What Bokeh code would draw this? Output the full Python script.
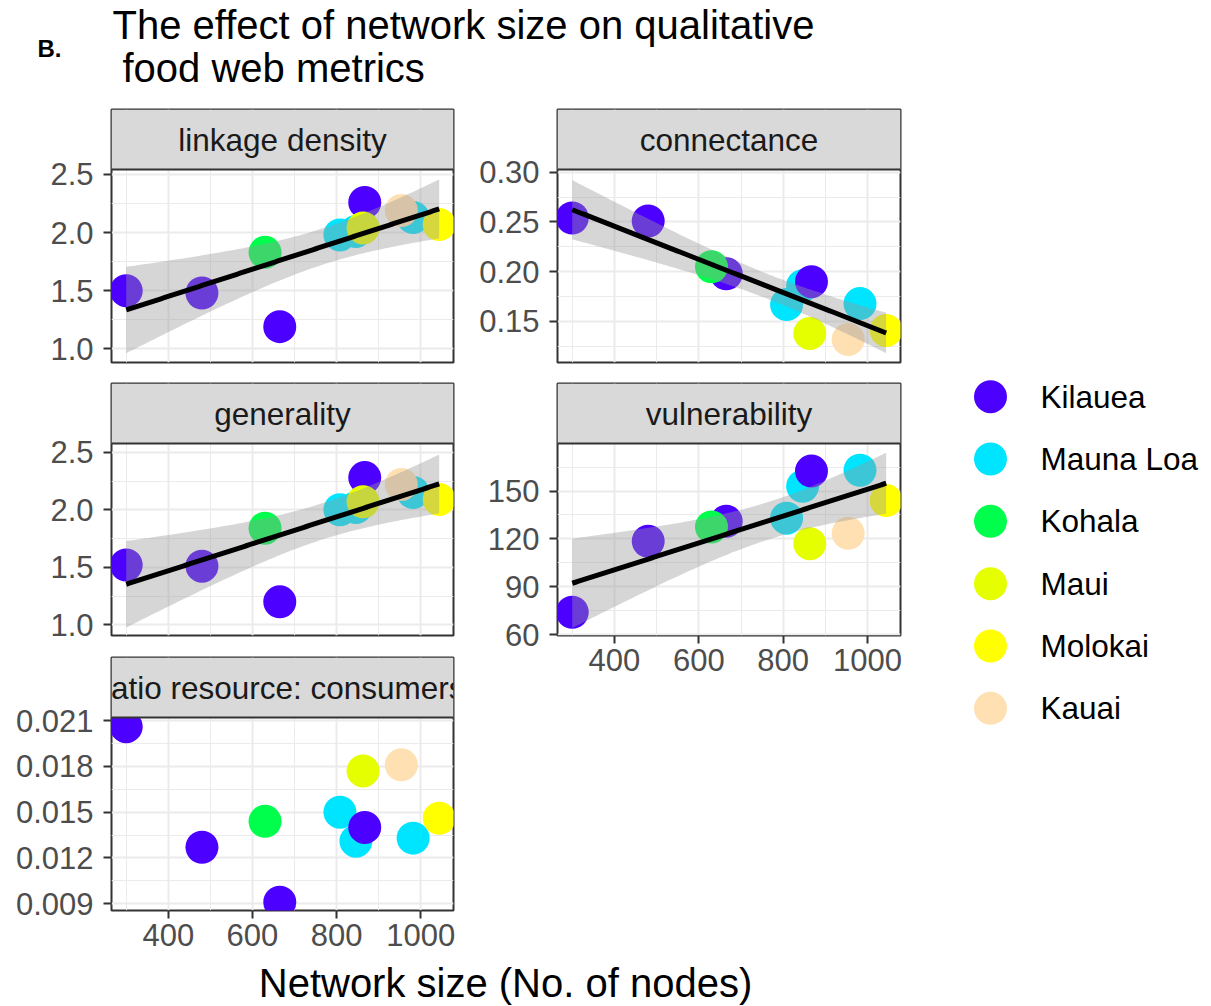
import numpy as np
from bokeh.plotting import figure
from bokeh.models import Range1d, FixedTicker, Span, Label
from bokeh.layouts import column, row
from bokeh.core.properties import value
from bokeh.embed import file_html
from bokeh.resources import INLINE

# ---------------- data ----------------
REGIONS = ["Kilauea", "Mauna Loa", "Kohala", "Maui", "Molokai", "Kauai"]
REGION_COLORS = ["#4C00FF", "#00E5FF", "#00FF4D", "#E6FF00", "#FFFF00", "#FFE0B3"]

site_region = ["Kilauea", "Kilauea", "Kilauea", "Mauna Loa", "Mauna Loa", "Kilauea",
               "Kohala", "Mauna Loa", "Maui", "Kauai", "Molokai"]
network_size = [300, 480, 665, 808, 846, 867, 630, 982, 863, 954, 1044]

linkage_density = [1.50, 1.48, 1.19, 1.98, 2.01, 2.26, 1.83, 2.13, 2.04, 2.19, 2.07]
connectance = [0.254, 0.251, 0.198, 0.167, 0.186, 0.190, 0.205, 0.168, 0.138, 0.132, 0.141]
generality = [1.52, 1.51, 1.20, 2.00, 2.02, 2.28, 1.84, 2.15, 2.07, 2.22, 2.09]
vulnerability = [74, 118.5, 131, 133, 153, 162.5, 127.5, 163, 117, 123.5, 144]
ratio_res_cons = [0.0206, 0.0127, 0.0091, 0.0150, 0.0131, 0.0140, 0.0144, 0.0133, 0.0177, 0.0181, 0.0146]

X_TICKS = [400, 600, 800, 1000]
X_TICK_LABELS = ["400", "600", "800", "1000"]
X_MINOR = [300, 500, 700, 900]

LD_TICKS = [1.0, 1.5, 2.0, 2.5]; LD_LABELS = ["1.0", "1.5", "2.0", "2.5"]; LD_MINOR = [1.25, 1.75, 2.25]
CO_TICKS = [0.15, 0.20, 0.25, 0.30]; CO_LABELS = ["0.15", "0.20", "0.25", "0.30"]; CO_MINOR = [0.125, 0.175, 0.225, 0.275]
GE_TICKS = [1.0, 1.5, 2.0, 2.5]; GE_LABELS = ["1.0", "1.5", "2.0", "2.5"]; GE_MINOR = [1.25, 1.75, 2.25]
VU_TICKS = [60, 90, 120, 150]; VU_LABELS = ["60", "90", "120", "150"]; VU_MINOR = [75, 105, 135, 165]
RA_TICKS = [0.009, 0.012, 0.015, 0.018, 0.021]; RA_LABELS = ["0.009", "0.012", "0.015", "0.018", "0.021"]
RA_MINOR = [0.0105, 0.0135, 0.0165, 0.0195]

T_975_DF9 = 2.262  # t quantile for 95% CI with n-2 = 9 df

FONT = "Liberation Sans"
color_of = dict(zip(REGIONS, REGION_COLORS))
point_colors = [color_of[r] for r in site_region]


def lm_fit(x, y, n=100):
    x = np.asarray(x, float); y = np.asarray(y, float)
    b1, b0 = np.polyfit(x, y, 1)
    xs = np.linspace(x.min(), x.max(), n)
    yhat = b0 + b1 * xs
    resid = y - (b0 + b1 * x)
    s = np.sqrt(resid @ resid / (len(x) - 2))
    se = s * np.sqrt(1.0 / len(x) + (xs - x.mean()) ** 2 / ((x - x.mean()) ** 2).sum())
    return xs, yhat, yhat - T_975_DF9 * se, yhat + T_975_DF9 * se


def panel(title, yvals, ylo, yhi, yticks, ylabels, yminor, smooth, show_x,
          left, right, top, bottom, frame_w, frame_h=253, strip_px=60):
    panel_px = frame_h - strip_px
    ext = yhi + strip_px * (yhi - ylo) / panel_px
    x0, x1 = 265, 1078
    p = figure(frame_width=frame_w, frame_height=frame_h,
               min_border_left=left, min_border_right=right,
               min_border_top=top, min_border_bottom=bottom,
               x_range=Range1d(x0, x1), y_range=Range1d(ylo, ext),
               output_backend="svg", toolbar_location=None)
    xt = FixedTicker(ticks=X_TICKS, minor_ticks=X_MINOR)
    yt = FixedTicker(ticks=yticks, minor_ticks=yminor)
    p.xaxis.ticker = xt
    p.yaxis.ticker = yt
    p.xgrid.ticker = xt
    p.ygrid.ticker = yt
    p.xaxis.major_label_overrides = dict(zip(X_TICKS, X_TICK_LABELS))
    p.yaxis.major_label_overrides = dict(zip(yticks, ylabels))
    p.grid.grid_line_color = "#EBEBEB"
    p.grid.grid_line_width = 2
    p.grid.minor_grid_line_color = "#EBEBEB"
    p.grid.minor_grid_line_width = 1
    p.axis.axis_line_color = None
    p.axis.major_tick_line_color = "#333333"
    p.axis.major_tick_line_width = 2
    p.axis.major_tick_out = 8
    p.axis.major_tick_in = 0
    p.axis.minor_tick_line_color = None
    p.axis.major_label_text_font = FONT
    p.axis.major_label_text_font_size = "31px"
    p.axis.major_label_text_color = "#4D4D4D"
    p.yaxis.major_label_standoff = 10
    p.xaxis.major_label_standoff = 5
    if not show_x:
        p.xaxis.visible = False
    p.outline_line_color = "#333333"
    p.outline_line_width = 2
    p.background_fill_color = "white"
    p.border_fill_color = "white"

    p.scatter(network_size, yvals, size=33, fill_color=point_colors, line_color=None)
    if smooth:
        xs, yh, lo, hi = lm_fit(network_size, yvals)
        p.varea(x=xs, y1=lo, y2=hi, fill_color="#999999", fill_alpha=0.4)
        p.line(xs, yh, line_color="black", line_width=5)

    # facet strip
    p.quad(left=[x0], right=[x1], bottom=[yhi], top=[ext], fill_color="#D9D9D9", line_color=None)
    p.add_layout(Span(location=yhi, dimension="width", line_color="#333333", line_width=2))
    p.text(x=[(x0 + x1) / 2], y=[(yhi + ext) / 2], text=[title], text_align="center",
           text_baseline="middle", text_font=value(FONT), text_font_size="31.5px",
           text_color="#1A1A1A")
    return p


LW, RW = 342, 343
f_link = panel("linkage density", linkage_density, 0.882, 2.543, LD_TICKS, LD_LABELS, LD_MINOR,
               True, False, 111, 15, 8, 10, LW)
f_gen = panel("generality", generality, 0.907, 2.576, GE_TICKS, GE_LABELS, GE_MINOR,
              True, False, 111, 15, 11, 11, LW, frame_h=252)
f_ratio = panel("ratio resource: consumers", ratio_res_cons, 0.00856, 0.0212, RA_TICKS, RA_LABELS,
                RA_MINOR, False, True, 111, 15, 11, 50, LW)
f_conn = panel("connectance", connectance, 0.1088, 0.3027, CO_TICKS, CO_LABELS, CO_MINOR,
               True, False, 89, 5, 8, 10, RW)
f_vuln = panel("vulnerability", vulnerability, 59.4, 179.8, VU_TICKS, VU_LABELS, VU_MINOR,
               True, True, 89, 5, 11, 50, RW, frame_h=252)


def blank(w, h, top=0):
    p = figure(frame_width=w, frame_height=h, min_border_left=0, min_border_right=0,
               min_border_top=top, min_border_bottom=0,
               x_range=Range1d(0, w), y_range=Range1d(h, 0),
               x_axis_location=None, y_axis_location=None,
               output_backend="svg", toolbar_location=None)
    p.grid.visible = False
    p.outline_line_color = None
    p.background_fill_color = "white"
    p.border_fill_color = "white"
    return p


# header with title
header = blank(1203, 101)
header.add_layout(Label(x=37, y=48, text="B.", text_font=FONT, text_font_size="24px",
                        text_font_style="bold", text_color="black", text_baseline="middle"))
header.add_layout(Label(x=112, y=24, text="The effect of network size on qualitative", text_font=FONT,
                        text_font_size="40px", text_color="black", text_baseline="middle"))
header.add_layout(Label(x=122, y=67, text="food web metrics", text_font=FONT,
                        text_font_size="40px", text_color="black", text_baseline="middle"))

# legend
leg = figure(frame_width=298, frame_height=374, min_border_left=0, min_border_right=0,
             min_border_top=264, min_border_bottom=0,
             x_range=Range1d(0, 298), y_range=Range1d(len(REGIONS) - 0.5, -0.5),
             x_axis_location=None, y_axis_location=None,
             output_backend="svg", toolbar_location=None)
leg.grid.visible = False
leg.outline_line_color = None
idx = list(range(len(REGIONS)))
leg.scatter(x=[85] * len(REGIONS), y=idx, size=33, fill_color=REGION_COLORS, line_color=None)
leg.text(x=[135] * len(REGIONS), y=idx, text=REGIONS, text_baseline="middle", text_align="left",
         text_font=value(FONT), text_font_size="31.5px", text_color="black")

# shared x axis title
xtitle = blank(1203, 46)
xtitle.add_layout(Label(x=505, y=22, text="Network size (No. of nodes)", text_font=FONT,
                        text_font_size="40px", text_color="black", text_align="center",
                        text_baseline="middle"))

layout = column(header,
                row(column(f_link, f_gen, f_ratio), column(f_conn, f_vuln), leg),
                xtitle)

open("out.html", "w").write(file_html(layout, INLINE))
